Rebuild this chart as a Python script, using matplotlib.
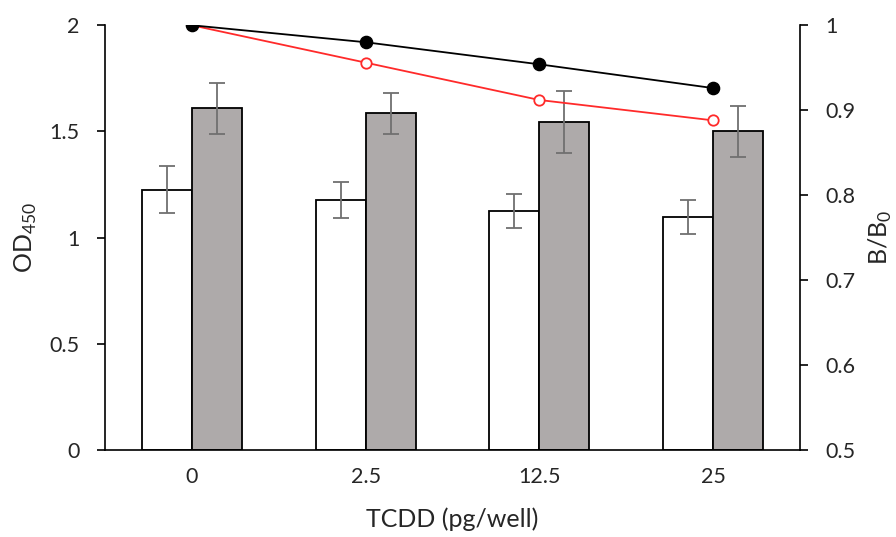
import matplotlib
matplotlib.use('Agg')
import matplotlib.pyplot as plt
import numpy as np

plt.rcParams['font.family'] = ['Lato', 'DejaVu Sans']
plt.rcParams['mathtext.fontset'] = 'custom'
plt.rcParams['mathtext.rm'] = 'Lato'

# data
doses = ['0', '2.5', '12.5', '25']
od_white = [1.225, 1.178, 1.125, 1.098]
err_white = [0.11, 0.085, 0.08, 0.08]
od_gray = [1.61, 1.585, 1.545, 1.50]
err_gray = [0.12, 0.095, 0.145, 0.12]
bb0_black = [1.0, 0.980, 0.954, 0.926]
bb0_red = [1.0, 0.956, 0.912, 0.888]

txt = '#262626'
x = np.arange(len(doses))
w = 0.288

fig = plt.figure(figsize=(8.96, 5.37), dpi=100)
ax = fig.add_axes([0.117, 0.162, 0.776, 0.791])

ax.bar(x - w / 2, od_white, w, color='white', edgecolor='black', linewidth=1.3,
       yerr=err_white, error_kw=dict(ecolor='#707070', elinewidth=1.3, capsize=5.5, capthick=1.3), zorder=2)
ax.bar(x + w / 2, od_gray, w, color='#aeaaaa', edgecolor='black', linewidth=1.3,
       yerr=err_gray, error_kw=dict(ecolor='#707070', elinewidth=1.3, capsize=5.5, capthick=1.3), zorder=2)

ax.set_xlim(-0.5, len(doses) - 0.5)
ax.set_ylim(0, 2)
ax.set_yticks([0, 0.5, 1, 1.5, 2])
ax.set_yticklabels(['0', '0.5', '1', '1.5', '2'])
ax.set_xticks(x)
ax.set_xticklabels(doses)
ax.tick_params(axis='x', length=0, pad=12, labelsize=15.5, labelcolor=txt)
ax.tick_params(axis='y', direction='out', length=6, width=1.2, pad=12, labelsize=15.5, labelcolor=txt)
ax.spines['top'].set_visible(False)
ax.spines['right'].set_visible(False)
ax.spines['left'].set_linewidth(1.2)
ax.spines['bottom'].set_linewidth(1.2)
ax.set_ylabel('OD$_{\\mathregular{450}}$', fontsize=18, color=txt, labelpad=8)
ax.set_xlabel('TCDD (pg/well)', fontsize=18, color=txt, labelpad=15)

ax2 = ax.twinx()
ax2.plot(x, bb0_red, color='#ff2a2a', linewidth=1.3, marker='o', markersize=7.5,
         markerfacecolor='white', markeredgecolor='#ff2a2a', markeredgewidth=1.3, zorder=3)
ax2.plot(x, bb0_black, color='black', linewidth=1.3, marker='o', markersize=8.8,
         markerfacecolor='black', markeredgecolor='black', zorder=4)
ax2.set_ylim(0.5, 1)
ax2.set_yticks([0.5, 0.6, 0.7, 0.8, 0.9, 1.0])
ax2.set_yticklabels(['0.5', '0.6', '0.7', '0.8', '0.9', '1'])
ax2.tick_params(axis='y', direction='out', length=6, width=1.2, pad=12, labelsize=15.5, labelcolor=txt)
ax2.spines['top'].set_visible(False)
ax2.spines['left'].set_visible(False)
ax2.spines['bottom'].set_visible(False)
ax2.spines['right'].set_linewidth(1.2)
ax2.set_ylabel('B/B$_{\\mathregular{0}}$', fontsize=18, color=txt, labelpad=8)

fig.savefig('out.png', dpi=100)
